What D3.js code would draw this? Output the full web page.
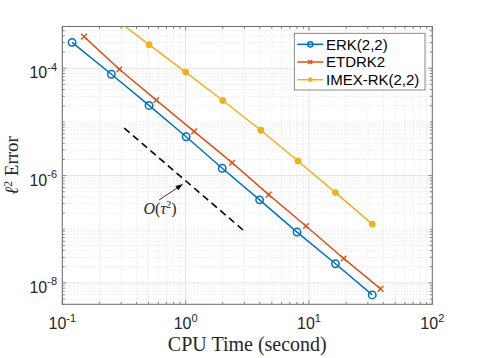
<!DOCTYPE html>
<html>
<head>
<meta charset="utf-8">
<script src="https://cdn.jsdelivr.net/npm/d3@7"></script>
<style>
  body { margin: 0; background: #fff; }
  svg { display: block; }
</style>
</head>
<body>
<div id="chart"></div>
<script>
// data (CPU time in seconds, l2 error)
const erkTime = [0.12, 0.25, 0.505, 1.01, 1.98, 3.98, 8.0, 16.4, 32.6];
const erkErr = [3.04e-4, 7.74e-5, 2.03e-5, 5.3e-6, 1.37e-6, 3.53e-7, 8.87e-8, 2.28e-8, 5.98e-9];

const etdTime = [0.15, 0.29, 0.578, 1.17, 2.38, 4.71, 9.46, 19.1, 38.1];
const etdErr = [3.88e-4, 9.58e-5, 2.55e-5, 6.67e-6, 1.74e-6, 4.43e-7, 1.15e-7, 2.86e-8, 7.74e-9];

const imexTime = [0.25, 0.505, 1.0, 2.0, 4.07, 8.15, 16.4, 32.6];
const imexErr = [9.4e-4, 2.75e-4, 8.5e-5, 2.51e-5, 7.0e-6, 1.87e-6, 4.82e-7, 1.25e-7];

// reference slope line O(tau^2)
const refTime = [0.318, 2.95];
const refErr = [7.68e-6, 9.5e-8];

const seriesNames = ["ERK(2,2)", "ETDRK2", "IMEX-RK(2,2)"];
const xTickExp = [-1, 0, 1, 2];
const yTickExp = [-4, -6, -8];

const W = 477, H = 358;
const pLeft = 62.3, pRight = 432.3, pTop = 26.5, pBottom = 304.3;

const x = d3.scaleLog().domain([0.1, 100]).range([pLeft, pRight]);
const y = d3.scaleLog().domain([4e-9, 6e-4]).range([pBottom, pTop]);

const sans = "'Liberation Sans', Arial, Helvetica, sans-serif";
const serif = "'Liberation Serif', 'Times New Roman', serif";
const axisColor = "#6e6e6e";
const textColor = "#262626";

const svg = d3.select("#chart").append("svg")
  .attr("width", W).attr("height", H);

svg.append("rect").attr("width", W).attr("height", H).attr("fill", "#fff");

svg.append("defs").append("clipPath").attr("id", "plotClip")
  .append("rect")
  .attr("x", pLeft).attr("y", pTop)
  .attr("width", pRight - pLeft).attr("height", pBottom - pTop);

// minor / major tick values
function minorVals(lo, hi, majors) {
  const out = [];
  for (let e = lo; e < hi; e++) {
    for (let k = 1; k <= 9; k++) {
      const v = k * Math.pow(10, e);
      if (!majors.some(m => Math.abs(Math.log10(v) - m) < 1e-9)) out.push(v);
    }
  }
  return out;
}
const xMinor = minorVals(-1, 2, xTickExp);
const yMinor = minorVals(-9, -3, yTickExp).filter(v => v >= 4e-9 && v <= 6e-4);
const xMajor = xTickExp.map(e => Math.pow(10, e));
const yMajor = yTickExp.map(e => Math.pow(10, e));

// grid
const grid = svg.append("g");
grid.selectAll(".xminor").data(xMinor).join("line")
  .attr("x1", d => x(d)).attr("x2", d => x(d))
  .attr("y1", pTop).attr("y2", pBottom)
  .attr("stroke", "#d4d4d4").attr("stroke-width", 0.7)
  .attr("stroke-dasharray", "1,2");
grid.selectAll(".yminor").data(yMinor).join("line")
  .attr("y1", d => y(d)).attr("y2", d => y(d))
  .attr("x1", pLeft).attr("x2", pRight)
  .attr("stroke", "#d4d4d4").attr("stroke-width", 0.7)
  .attr("stroke-dasharray", "1,2");
grid.selectAll(".xmajor").data(xMajor).join("line")
  .attr("x1", d => x(d)).attr("x2", d => x(d))
  .attr("y1", pTop).attr("y2", pBottom)
  .attr("stroke", "#e3e3e3").attr("stroke-width", 1);
grid.selectAll(".ymajor").data(yMajor).join("line")
  .attr("y1", d => y(d)).attr("y2", d => y(d))
  .attr("x1", pLeft).attr("x2", pRight)
  .attr("stroke", "#e3e3e3").attr("stroke-width", 1);

// ticks (inside, all four sides)
const ticks = svg.append("g").attr("stroke", axisColor).attr("stroke-width", 0.8);
function xTicks(vals, len) {
  vals.forEach(v => {
    ticks.append("line").attr("x1", x(v)).attr("x2", x(v)).attr("y1", pBottom).attr("y2", pBottom - len);
    ticks.append("line").attr("x1", x(v)).attr("x2", x(v)).attr("y1", pTop).attr("y2", pTop + len);
  });
}
function yTicks(vals, len) {
  vals.forEach(v => {
    ticks.append("line").attr("y1", y(v)).attr("y2", y(v)).attr("x1", pLeft).attr("x2", pLeft + len);
    ticks.append("line").attr("y1", y(v)).attr("y2", y(v)).attr("x1", pRight).attr("x2", pRight - len);
  });
}
xTicks(xMajor, 4); xTicks(xMinor, 2.5);
yTicks(yMajor, 4); yTicks(yMinor, 2.5);

// frame
svg.append("rect")
  .attr("x", pLeft).attr("y", pTop)
  .attr("width", pRight - pLeft).attr("height", pBottom - pTop)
  .attr("fill", "none").attr("stroke", axisColor).attr("stroke-width", 1);

// tick labels
function powLabel(g, e) {
  g.append("tspan").text("10");
  g.append("tspan").attr("dy", -7.5).attr("font-size", 11).text(String(e));
}
xTickExp.forEach(e => {
  const t = svg.append("text")
    .attr("x", x(Math.pow(10, e))).attr("y", 329)
    .attr("text-anchor", "middle")
    .attr("font-family", sans).attr("font-size", 16).attr("fill", textColor);
  powLabel(t, e);
});
yTickExp.forEach(e => {
  const t = svg.append("text")
    .attr("x", 57).attr("y", y(Math.pow(10, e)) + 10)
    .attr("text-anchor", "end")
    .attr("font-family", sans).attr("font-size", 16).attr("fill", textColor);
  powLabel(t, e);
});

// axis titles
svg.append("text")
  .attr("x", (pLeft + pRight) / 2).attr("y", 351)
  .attr("text-anchor", "middle")
  .attr("font-family", serif).attr("font-size", 20).attr("fill", textColor)
  .text("CPU Time (second)");

const yl = svg.append("text")
  .attr("transform", `translate(18,${(pTop + pBottom) / 2}) rotate(-90)`)
  .attr("text-anchor", "middle")
  .attr("font-family", serif).attr("font-size", 19).attr("fill", textColor);
yl.append("tspan").attr("font-style", "italic").text("ℓ");
yl.append("tspan").attr("dy", -6.5).attr("font-size", 11.5).text("2");
yl.append("tspan").attr("dy", 6.5).text(" Error");

// series
const series = [
  { name: seriesNames[0], t: erkTime, e: erkErr, color: "#0072BD", marker: "circle" },
  { name: seriesNames[1], t: etdTime, e: etdErr, color: "#D95319", marker: "cross" },
  { name: seriesNames[2], t: imexTime, e: imexErr, color: "#EDB120", marker: "dot" }
];

const plot = svg.append("g").attr("clip-path", "url(#plotClip)");
const line = d3.line().x(d => x(d[0])).y(d => y(d[1]));

function drawMarker(g, type, cx, cy, color, s) {
  if (type === "circle") {
    g.append("circle").attr("cx", cx).attr("cy", cy).attr("r", 3.7 * s)
      .attr("fill", "none").attr("stroke", color).attr("stroke-width", 1.5);
  } else if (type === "cross") {
    const r = 2.8 * s;
    g.append("path")
      .attr("d", `M${cx - r},${cy - r}L${cx + r},${cy + r}M${cx - r},${cy + r}L${cx + r},${cy - r}`)
      .attr("stroke", color).attr("stroke-width", 1.4);
  } else {
    g.append("circle").attr("cx", cx).attr("cy", cy).attr("r", 3.4 * s)
      .attr("fill", color);
  }
}

series.forEach(s => {
  const pts = s.t.map((t, i) => [t, s.e[i]]);
  plot.append("path").datum(pts)
    .attr("d", line)
    .attr("fill", "none").attr("stroke", s.color).attr("stroke-width", 1.5);
  pts.forEach(p => drawMarker(plot, s.marker, x(p[0]), y(p[1]), s.color, 1));
});

// O(tau^2) reference line
plot.append("path").datum(refTime.map((t, i) => [t, refErr[i]]))
  .attr("d", line)
  .attr("fill", "none").attr("stroke", "#000").attr("stroke-width", 1.6)
  .attr("stroke-dasharray", "7,4.5");

// annotation arrow + label
const arrowTail = [0.608, 3.5e-7];
const arrowHead = [0.946, 6.9e-7];
const ax1 = x(arrowTail[0]), ay1 = y(arrowTail[1]);
const ax2 = x(arrowHead[0]), ay2 = y(arrowHead[1]);
svg.append("line")
  .attr("x1", ax1).attr("y1", ay1).attr("x2", ax2).attr("y2", ay2)
  .attr("stroke", "#000").attr("stroke-width", 0.8);
const ang = Math.atan2(ay2 - ay1, ax2 - ax1);
const hl = 7, hw = 2.6;
const bx = ax2 - hl * Math.cos(ang), by = ay2 - hl * Math.sin(ang);
svg.append("path")
  .attr("d", `M${ax2},${ay2}L${bx - hw * Math.sin(ang)},${by + hw * Math.cos(ang)}L${bx + hw * Math.sin(ang)},${by - hw * Math.cos(ang)}Z`)
  .attr("fill", "#000");

const lab = svg.append("text")
  .attr("x", x(0.62)).attr("y", y(1.9e-7))
  .attr("text-anchor", "middle")
  .attr("font-family", serif).attr("font-size", 16).attr("fill", textColor);
lab.append("tspan").attr("font-style", "italic").text("O");
lab.append("tspan").text("(");
lab.append("tspan").attr("font-style", "italic").text("τ");
lab.append("tspan").attr("dy", -6).attr("font-size", 10).text("2");
lab.append("tspan").attr("dy", 6).text(")");

// legend
const lg = svg.append("g");
const lgX = 294.3, lgY = 33.3, lgW = 130.7, lgH = 56.7;
lg.append("rect")
  .attr("x", lgX).attr("y", lgY).attr("width", lgW).attr("height", lgH)
  .attr("fill", "#fff").attr("stroke", "#6e6e6e").attr("stroke-width", 0.8);
series.forEach((s, i) => {
  const cy = 44.3 + i * 17.7;
  lg.append("line").attr("x1", 297.3).attr("x2", 323.3).attr("y1", cy).attr("y2", cy)
    .attr("stroke", s.color).attr("stroke-width", 1.5);
  drawMarker(lg, s.marker, 310.3, cy, s.color, 0.7);
  lg.append("text").attr("x", 326).attr("y", cy + 5.3)
    .attr("font-family", sans).attr("font-size", 15).attr("fill", "#000")
    .text(s.name);
});
</script>
</body>
</html>
